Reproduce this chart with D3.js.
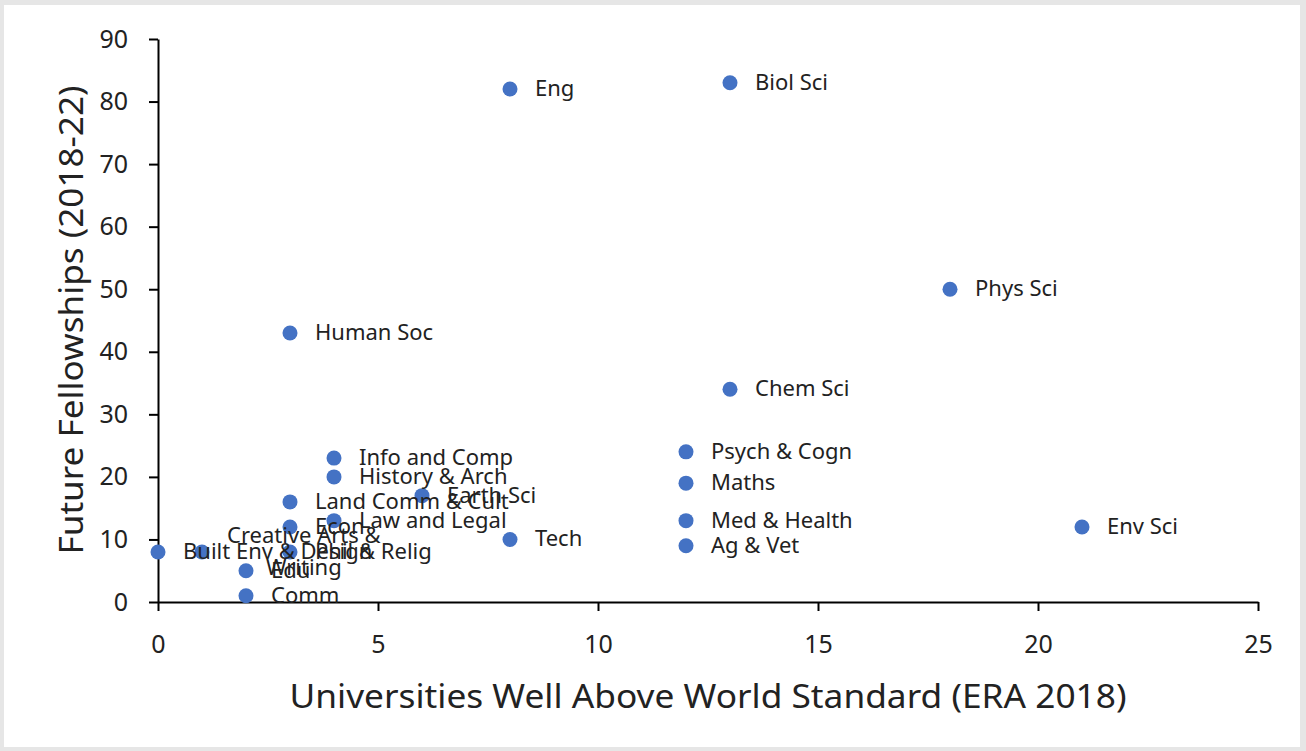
<!DOCTYPE html>
<html>
<head>
<meta charset="utf-8">
<script src="https://cdn.jsdelivr.net/npm/d3@7"></script>
<style>
  html, body { margin: 0; padding: 0; background: #e6e6e6; }
  svg { display: block; }
  text { font-family: "Noto Sans", "Open Sans", sans-serif; fill: #222; }
</style>
</head>
<body>
<svg id="chart" width="1306" height="751"></svg>
<script>
// Fields of research: universities rated well above world standard vs. Future Fellowships awarded
const fields = ["Eng", "Biol Sci", "Phys Sci", "Human Soc", "Chem Sci", "Psych & Cogn", "Maths",
  "Med & Health", "Ag & Vet", "Env Sci", "Tech", "Info and Comp", "History & Arch", "Earth Sci",
  "Land Comm & Cult", "Law and Legal", "Econ", "Built Env & Design", "Creative Arts & Writing",
  "Phil & Relig", "Edu", "Comm"];
const universities = [8, 13, 18, 3, 13, 12, 12, 12, 12, 21, 8, 4, 4, 6, 3, 4, 3, 0, 1, 3, 2, 2];
const fellowships = [82, 83, 50, 43, 34, 24, 19, 13, 9, 12, 10, 23, 20, 17, 16, 13, 12, 8, 8, 8, 5, 1];

const xTicks = [0, 5, 10, 15, 20, 25];
const yTicks = [0, 10, 20, 30, 40, 50, 60, 70, 80, 90];
const xTitle = "Universities Well Above World Standard (ERA 2018)";
const yTitle = "Future Fellowships (2018-22)";

const svg = d3.select("#chart");

// white chart card inside the grey frame
svg.append("rect").attr("x", 4).attr("y", 5).attr("width", 1296).attr("height", 742).attr("fill", "#fff");

const plot = { left: 158, right: 1258, top: 39, bottom: 602 };
const x = d3.scaleLinear().domain([0, 25]).range([plot.left, plot.right]);
const y = d3.scaleLinear().domain([0, 90]).range([plot.bottom, plot.top]);

// axes
const xAxis = svg.append("g")
  .attr("transform", `translate(0,${plot.bottom})`)
  .call(d3.axisBottom(x).tickValues(xTicks).tickSize(9).tickPadding(24).tickSizeOuter(0));
const yAxis = svg.append("g")
  .attr("transform", `translate(${plot.left},0)`)
  .call(d3.axisLeft(y).tickValues(yTicks).tickSize(9).tickPadding(21).tickSizeOuter(0));

[xAxis, yAxis].forEach(g => {
  g.select(".domain").attr("stroke", "#000").attr("stroke-width", 2);
  g.selectAll(".tick line").attr("stroke", "#000").attr("stroke-width", 2);
  g.selectAll(".tick text").attr("font-size", 25).attr("fill", "#222")
    .attr("font-family", "'Noto Sans', 'Open Sans', sans-serif");
});

// axis titles
svg.append("text")
  .attr("x", 708)
  .attr("y", 708)
  .attr("text-anchor", "middle")
  .attr("font-size", 33)
  .attr("textLength", 837)
  .attr("lengthAdjust", "spacingAndGlyphs")
  .text(xTitle);

svg.append("text")
  .attr("transform", `translate(83,320) rotate(-90)`)
  .attr("text-anchor", "middle")
  .attr("font-size", 33)
  .attr("textLength", 469)
  .attr("lengthAdjust", "spacingAndGlyphs")
  .text(yTitle);

const data = fields.map((f, i) => ({ name: f, u: universities[i], f: fellowships[i] }));

// markers
svg.append("g").selectAll("circle")
  .data(data)
  .join("circle")
  .attr("cx", d => x(d.u))
  .attr("cy", d => y(d.f))
  .attr("r", 7.5)
  .attr("fill", "#4472c4");

// data labels, to the right of each marker; long names wrap onto two lines
const wrapped = { "Creative Arts & Writing": ["Creative Arts &", "Writing"] };
const labels = svg.append("g").selectAll("text")
  .data(data)
  .join("text")
  .attr("x", d => x(d.u) + 25)
  .attr("y", d => y(d.f) + 1)
  .attr("dominant-baseline", "middle")
  .attr("font-size", 22)
  .attr("fill", "#333");

labels.each(function(d) {
  const t = d3.select(this);
  const lines = wrapped[d.name];
  if (!lines) { t.text(d.name); return; }
  const cx = x(d.u) + 25;
  lines.forEach((line, i) => {
    t.append("tspan")
      .attr("x", cx)
      .attr("y", y(d.f) + (i === 0 ? -15 : 17))
      .text(line);
  });
  // centre the wrapped lines on each other
  const w0 = t.select("tspan").node().getComputedTextLength();
  t.selectAll("tspan").each(function() {
    const w = this.getComputedTextLength();
    d3.select(this).attr("x", cx + (w0 - w) / 2);
  });
});
</script>
</body>
</html>
